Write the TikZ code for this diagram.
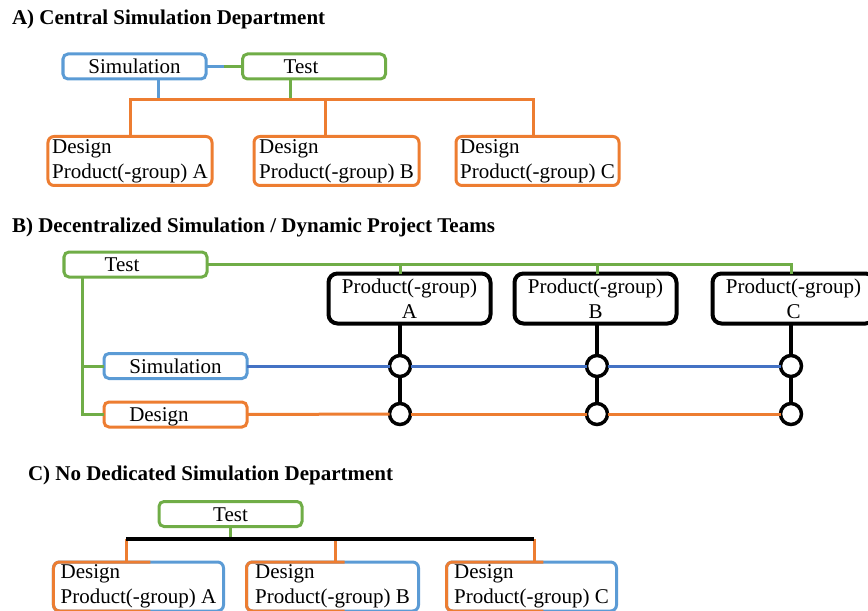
\documentclass[tikz,border=0pt]{standalone}
\usepackage{fontspec}
\setmainfont{Liberation Serif}
\usetikzlibrary{calc,positioning}
\definecolor{simblue}{HTML}{5B9BD5}
\definecolor{simline}{HTML}{4472C4}
\definecolor{testgreen}{HTML}{70AD47}
\definecolor{desorange}{HTML}{ED7D31}

\begin{document}
\begin{tikzpicture}[
		x=1bp,y=-1bp,
		font=\fontsize{21bp}{25bp}\selectfont,
		every node/.append style={inner sep=0pt,outer sep=0pt},
		link/.style={line width=3bp},
		unitbox/.style={draw,line width=3bp,rounded corners=5bp,minimum width=143bp,minimum height=25bp,text height=15bp,text depth=1bp},
		dpbox/.style={draw,line width=3bp,rounded corners=6bp,minimum width=#1,minimum height=49bp,align=left,execute at begin node={\rule{0pt}{18bp}}},
		prodbox/.style={draw,line width=4bp,rounded corners=9bp,minimum width=162bp,minimum height=50bp,align=center},
		joint/.style={circle,draw,line width=3.5bp,minimum size=21bp,fill=white},
		heading/.style={anchor=base west,font=\fontsize{21bp}{25bp}\selectfont\bfseries}
	]
	\useasboundingbox (0,0) rectangle (868,611);

	% A) central simulation
	\node[heading] (headA) at (12,25) {A) Central Simulation Department};
	\node[unitbox,draw=simblue] (simA) at (134.5,66.5) {Simulation};
	\node[unitbox,draw=testgreen] (testA) at (314,66.5) {\hspace*{-26bp}Test};
	\node[dpbox=164bp,draw=desorange] (desA1) at (130,161) {Design\\Product(-group) A};
	\node[dpbox=165bp,draw=desorange] (desA2) at (336.5,161) {Design\\Product(-group) B};
	\node[dpbox=163bp,draw=desorange] (desA3) at (537.5,161) {Design\\Product(-group) C};
	\coordinate (jA1) at (130,100);
	\coordinate (jA2) at (325,100);
	\coordinate (jA3) at (533,100);
	\coordinate (jSim) at (158,100);
	\coordinate (jTest) at (290,100);
	\draw[link,simblue] (simA.east) -- ($(simA.east)!.5!(testA.west)$);
	\draw[link,testgreen] ($(simA.east)!.5!(testA.west)$) -- (testA.west);
	\draw[link,simblue] (jSim |- simA.south) -- (jSim);
	\draw[link,testgreen] (jTest |- testA.south) -- (jTest);
	\draw[link,desorange] (desA1.north) -- (jA1) -- (jA3) -- (jA3 |- desA3.north);
	\draw[link,desorange] (jA2) -- (jA2 |- desA2.north);

	% B) decentralized simulation
	\node[heading] (headB) at (12,233) {B) Decentralized Simulation / Dynamic Project Teams};
	\node[unitbox,draw=testgreen] (testB) at (135.5,264.5) {\hspace*{-27bp}Test};
	\node[unitbox,draw=simblue] (simB) at (175.5,366) {Simulation};
	\node[unitbox,draw=desorange] (desB) at (175.5,414.5) {\hspace*{-33bp}Design};
	\node[prodbox] (pA) at (409.5,298.5) {Product(-group)\\A};
	\node[prodbox] (pB) at (595.5,298.5) {Product(-group)\\B};
	\node[prodbox] (pC) at (793.5,298.5) {Product(-group)\\C};
	\node[joint] (sA) at (400,366) {};
	\node[joint] (dA) at (400,414) {};
	\node[joint] (sB) at (597,366) {};
	\node[joint] (dB) at (597,414) {};
	\node[joint] (sC) at (791,366) {};
	\node[joint] (dC) at (791,414) {};
	\coordinate (trunk) at ([xshift=18bp]testB.south west);
	\draw[link,testgreen] (testB.east) -| (sC |- pC.north);
	\draw[link,testgreen] (sA |- testB.east) -- (sA |- pA.north);
	\draw[link,testgreen] (sB |- testB.east) -- (sB |- pB.north);
	\draw[link,testgreen] (trunk) |- (desB.west);
	\draw[link,testgreen] (trunk |- simB.west) -- (simB.west);
	\draw[link,simline] (simB.east) -- (sA.west);
	\draw[link,simline] (sA.east) -- (sB.west);
	\draw[link,simline] (sB.east) -- (sC.west);
	\draw[link,desorange] (desB.east) -- (dA.west);
	\draw[link,desorange] (dA.east) -- (dB.west);
	\draw[link,desorange] (dB.east) -- (dC.west);
	\foreach \p in {A,B,C} {
		\draw[line width=4bp] (s\p |- p\p.south) -- (s\p.north);
		\draw[line width=4bp] (s\p.south) -- (d\p.north);
	}

	% C) no dedicated simulation
	\node[heading] (headC) at (28,480) {C) No Dedicated Simulation Department};
	\node[unitbox,draw=testgreen] (testC) at (230.5,514) {Test};
	\node[dpbox=170bp,draw=simblue] (dcA) at (138.5,586.5) {Design\\Product(-group) A};
	\node[dpbox=172bp,draw=simblue] (dcB) at (332.5,586.5) {Design\\Product(-group) B};
	\node[dpbox=170bp,draw=simblue] (dcC) at (531.5,586.5) {Design\\Product(-group) C};
	\foreach \n in {dcA,dcB,dcC} {
		\begin{scope}
			\clip (\n.north west) ++(-5,-5) rectangle ($(\n.south west)!0.57!(\n.south east)+(0,5)$);
			\draw[link,desorange,rounded corners=6bp] (\n.north west) rectangle (\n.south east);
		\end{scope}
	}
	\coordinate (jC1) at (126,539);
	\coordinate (jC2) at (335,539);
	\coordinate (jC3) at (534,539);
	\draw[link,desorange] (jC1) -- (jC1 |- dcA.north);
	\draw[link,desorange] (jC2) -- (jC2 |- dcB.north);
	\draw[link,desorange] (jC3) -- (jC3 |- dcC.north);
	\draw[link,testgreen] (testC.south) -- (testC.south |- jC1);
	\draw[line width=3.5bp] (jC1) -- (jC3);
\end{tikzpicture}
\end{document}
